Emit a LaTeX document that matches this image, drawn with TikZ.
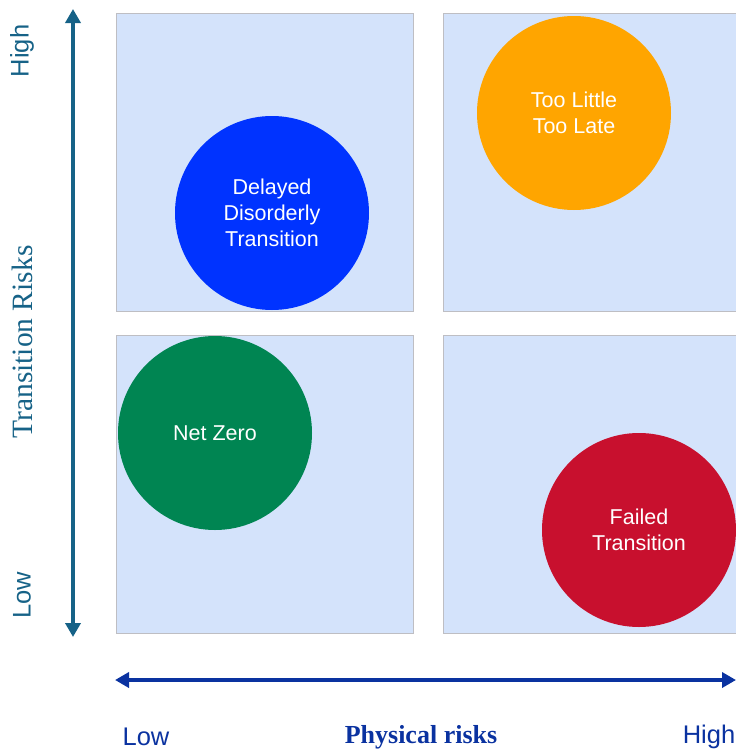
\documentclass[tikz,border=0pt]{standalone}
\usepackage{fontspec}
\setmainfont{Liberation Serif}
\setsansfont{Liberation Sans}
\usetikzlibrary{arrows.meta}

\definecolor{boxblue}{RGB}{212,227,251}
\definecolor{boxline}{RGB}{190,190,195}
\definecolor{tealaxis}{RGB}{22,98,135}
\definecolor{navyaxis}{RGB}{10,50,160}
\definecolor{ddblue}{RGB}{0,51,255}
\definecolor{tllorange}{RGB}{255,165,0}
\definecolor{nzgreen}{RGB}{0,133,82}
\definecolor{ftred}{RGB}{200,16,46}

\begin{document}
\begin{tikzpicture}[
    x=1pt, y=-1pt,
    >=Latex,
    box style/.style={draw=boxline, line width=0.6pt, fill=boxblue, minimum width=297pt, minimum height=298pt, inner sep=0pt, anchor=north west},
    bubble style/.style={circle, minimum size=194pt, inner sep=0pt, align=center, text=white, font=\sffamily\fontsize{21.5}{26}\selectfont},
    axis style/.style={line width=3.6pt, {Triangle[length=14pt, width=15pt]}-{Triangle[length=14pt, width=15pt]}},
    tick style/.style={font=\sffamily\fontsize{25.5}{25.5}\selectfont},
    title style/.style={font=\fontsize{29.5}{29.5}\selectfont},
    bold title style/.style={font=\bfseries\fontsize{26}{26}\selectfont}
]
\useasboundingbox (0,0) rectangle (736,753);

% Draw the four quadrants
\node[box style] (q11) at (116,13) {};
\node[box style] (q12) at (443,13) {};
\node[box style] (q21) at (116,335) {};
\node[box style] (q22) at (443,335) {};

% Draw the scenario bubbles
\node[bubble style, fill=ddblue] (dd) at (272,213) {Delayed\\Disorderly\\Transition};
\node[bubble style, fill=tllorange] (tll) at (574,113) {Too Little\\Too Late};
\node[bubble style, fill=nzgreen] (nz) at (215,433) {Net Zero};
\node[bubble style, fill=ftred] (ft) at (639,530) {Failed\\Transition};

% Draw the axes
\coordinate (ytop) at (73,9);
\coordinate (ybot) at (73,637);
\coordinate (xleft) at (115,680);
\coordinate (xright) at (736,680);
\draw[axis style, tealaxis] (ybot) -- (ytop);
\draw[axis style, navyaxis] (xleft) -- (xright);

% Add labels for the axes
\node[tick style, text=tealaxis, rotate=90] (yhigh) at (22,51) {High};
\node[tick style, text=tealaxis, rotate=90] (ylow) at (22,595) {Low};
\node[title style, text=tealaxis, rotate=90] (ytitle) at (22,342) {Transition Risks};
\node[tick style, text=navyaxis] (xlow) at (146,737) {Low};
\node[tick style, text=navyaxis] (xhigh) at (709,737) {High};
\node[bold title style, text=navyaxis] (xtitle) at (421,737) {Physical risks};
\end{tikzpicture}
\end{document}
